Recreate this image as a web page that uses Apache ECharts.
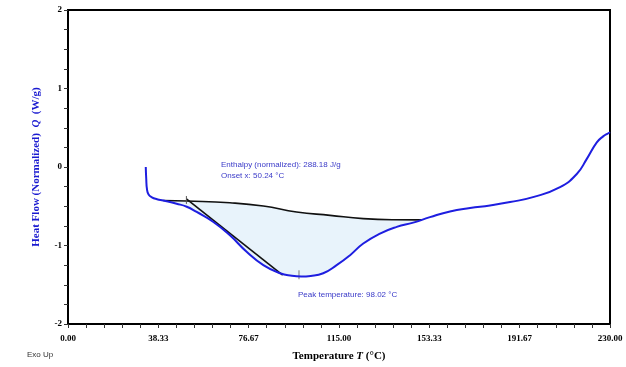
<!DOCTYPE html>
<html><head><meta charset="utf-8">
<script src="https://cdn.jsdelivr.net/npm/echarts@6/dist/echarts.min.js"></script>
<style>html,body{margin:0;padding:0;background:#fff}#c{width:626px;height:367px}</style>
</head><body><div id="c"></div>
<script>
// Temperature (°C) and heat flow (W/g) of the DSC curve
const curveT = [33.0, 33.2, 33.5, 34.2, 35.6, 37.8, 40.4, 46.1, 50.4, 54.6, 61.7, 68.7, 75.8, 82.9, 90.0, 95.0, 99.0, 103.0, 108.3, 114.0, 119.7, 125.3, 132.4, 139.5, 146.5, 153.6, 162.1, 170.6, 179.1, 187.6, 197.3, 208.8, 215.9, 220.1, 224.4, 227.1, 229.3, 230.0];
const curveQ = [0.00, -0.15, -0.28, -0.35, -0.386, -0.41, -0.427, -0.468, -0.506, -0.573, -0.70, -0.87, -1.08, -1.25, -1.354, -1.386, -1.395, -1.388, -1.354, -1.25, -1.123, -0.975, -0.848, -0.763, -0.709, -0.639, -0.566, -0.523, -0.49, -0.447, -0.384, -0.257, -0.089, 0.10, 0.313, 0.39, 0.43, 0.443];
// integration baseline
const baseT = [40.4, 50.4, 68.7, 82.9, 97.0, 111.2, 125.3, 138.0, 150.0];
const baseQ = [-0.427, -0.434, -0.456, -0.497, -0.573, -0.616, -0.658, -0.672, -0.673];
// onset tangent
const tangentT = [50.24, 91.1];
const tangentQ = [-0.405, -1.376];
// marker ticks
const onsetT = 50.24, onsetQ = [-0.37, -0.47];
const peakT = 98.02, peakQ = [-1.316, -1.43];
// axis ticks
const xTickLabels = [0.00, 38.33, 76.67, 115.00, 153.33, 191.67, 230.00];
const yTickLabels = [-2, -1, 0, 1, 2];
const enthalpyText = 'Enthalpy (normalized): 288.18 J/g';
const onsetText = 'Onset x: 50.24 °C';
const peakText = 'Peak temperature: 98.02 °C';

const zip = (a, b) => a.map((v, i) => [v, b[i]]);
const curve = zip(curveT, curveQ);
const base = zip(baseT, baseQ);
const fillPoly = curve.filter(p => p[0] >= baseT[0] && p[0] <= baseT[baseT.length - 1])
  .concat([[baseT[baseT.length - 1], baseQ[baseQ.length - 1]]])
  .concat(base.slice().reverse());
const xMinor = [];
for (let i = 0; i <= 30; i++) xMinor.push(xTickLabels[xTickLabels.length - 1] * i / 30);

const serif = '"Liberation Serif", "Times New Roman", serif';
const sans = '"Liberation Sans", Arial, sans-serif';
const chart = echarts.init(document.getElementById('c'));
chart.setOption({
  animation: false,
  grid: { left: 68, right: 16, top: 10, bottom: 38, show: true, borderColor: '#000', borderWidth: 2 },
  xAxis: {
    type: 'value', min: 0, max: 230,
    name: '{b|Temperature }{i|T}{b| (°C)}', nameLocation: 'middle', nameGap: 27,
    nameTextStyle: { rich: {
      b: { fontFamily: serif, fontWeight: 'bold', fontSize: 11, color: '#000' },
      i: { fontFamily: serif, fontWeight: 'bold', fontStyle: 'italic', fontSize: 11, color: '#000' } } },
    axisLine: { onZero: false, lineStyle: { color: '#000', width: 2 } },
    axisTick: { show: true, length: 4, customValues: xMinor, lineStyle: { color: '#333', width: 1 } },
    axisLabel: { customValues: xTickLabels, formatter: v => v.toFixed(2), fontFamily: serif, fontWeight: 'bold', fontSize: 9, color: '#000', margin: 10 },
    splitLine: { show: false }
  },
  yAxis: {
    type: 'value', min: -2, max: 2, interval: 1,
    name: '{b|Heat Flow (Normalized)  }{i|Q}{b|  (W/g)}', nameLocation: 'middle', nameGap: 26,
    nameTextStyle: { rich: {
      b: { fontFamily: serif, fontWeight: 'bold', fontSize: 11, color: '#1a1ad0' },
      i: { fontFamily: serif, fontWeight: 'bold', fontStyle: 'italic', fontSize: 11, color: '#1a1ad0' } } },
    axisLine: { show: true, onZero: false, lineStyle: { color: '#000', width: 2 } },
    axisTick: { show: true, length: 4, lineStyle: { color: '#333', width: 1 } },
    minorTick: { show: true, splitNumber: 4, length: 4, lineStyle: { color: '#333', width: 1 } },
    axisLabel: { customValues: yTickLabels, formatter: v => String(v), fontFamily: serif, fontWeight: 'bold', fontSize: 9, color: '#000', margin: 6 },
    splitLine: { show: false }
  },
  graphic: [
    { type: 'text', left: 221, top: 159, style: { text: enthalpyText + '\n' + onsetText, font: '8px ' + sans, fill: '#3a3ac8', lineHeight: 11 } },
    { type: 'text', left: 298, top: 291, style: { text: peakText, font: '8px ' + sans, fill: '#3a3ac8' } },
    { type: 'text', left: 27, top: 351, style: { text: 'Exo Up', font: '8px ' + sans, fill: '#333' } }
  ],
  series: [
    { type: 'custom', z: 1, silent: true, data: [[0, 0]],
      renderItem: (params, api) => ({ type: 'polygon', shape: { points: fillPoly.map(p => api.coord(p)) }, style: { fill: '#e8f3fb' } }) },
    { type: 'line', z: 3, data: base, symbol: 'none', smooth: 0.5, lineStyle: { color: '#111', width: 1.6 } },
    { type: 'line', z: 3, data: zip(tangentT, tangentQ), symbol: 'none', lineStyle: { color: '#111', width: 1.6 } },
    { type: 'line', z: 3, data: onsetQ.map(q => [onsetT, q]), symbol: 'none', lineStyle: { color: '#555', width: 1 } },
    { type: 'line', z: 3, data: peakQ.map(q => [peakT, q]), symbol: 'none', lineStyle: { color: '#777', width: 1 } },
    { type: 'line', z: 4, data: curve, symbol: 'none', smooth: 0.5, lineStyle: { color: '#1e1ee0', width: 2 } }
  ]
});
</script></body></html>
